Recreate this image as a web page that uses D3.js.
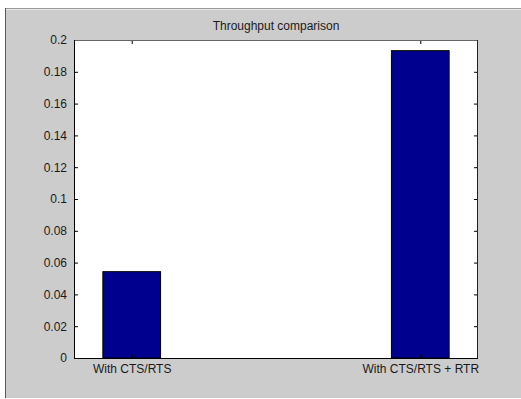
<!DOCTYPE html>
<html>
<head>
<meta charset="utf-8">
<script src="https://cdn.jsdelivr.net/npm/d3@7"></script>
<style>
  html, body { margin: 0; padding: 0; background: #ffffff; }
  svg { display: block; }
  text { font-family: "Liberation Sans", Arial, sans-serif; fill: #1a1a1a; }
</style>
</head>
<body>
<svg id="chart" width="521" height="399"></svg>
<script>
// Throughput per configuration
const categories = ["With CTS/RTS", "With CTS/RTS + RTR"];
const throughput = [0.0543, 0.1933];
const yTicks = [0, 0.02, 0.04, 0.06, 0.08, 0.1, 0.12, 0.14, 0.16, 0.18, 0.2];
const titleText = "Throughput comparison";

const svg = d3.select("#chart");
const W = 521, H = 399;
const FONT = "Liberation Sans, Arial, sans-serif";

// Figure window background
svg.append("rect").attr("x", 0).attr("y", 0).attr("width", W).attr("height", H).attr("fill", "#ffffff");
svg.append("rect").attr("x", 5).attr("y", 8).attr("width", W - 5).attr("height", 390).attr("fill", "#cccccc");
svg.append("line").attr("x1", 5).attr("x2", W).attr("y1", 8.5).attr("y2", 8.5).attr("stroke", "#9a9a9a");
svg.append("line").attr("x1", 6).attr("x2", W).attr("y1", 9.5).attr("y2", 9.5).attr("stroke", "#e8e8e8");
svg.append("line").attr("x1", 5.5).attr("x2", 5.5).attr("y1", 8).attr("y2", 398).attr("stroke", "#555a60");

// Axes box
const plot = { left: 74, top: 40, right: 478, bottom: 358 };
const x = d3.scaleLinear().domain([0.8, 2.2]).range([plot.left, plot.right]);
const y = d3.scaleLinear().domain([0, 0.2]).range([plot.bottom, plot.top]);
const barWidth = 0.2;

svg.append("rect")
  .attr("x", plot.left).attr("y", plot.top)
  .attr("width", plot.right - plot.left).attr("height", plot.bottom - plot.top)
  .attr("fill", "#ffffff");

// Bars
svg.append("g").selectAll("rect")
  .data(throughput)
  .join("rect")
  .attr("x", (d, i) => x(i + 1 - barWidth / 2))
  .attr("y", d => y(d))
  .attr("width", x(1 + barWidth) - x(1))
  .attr("height", d => y(0) - y(d))
  .attr("fill", "#00008f")
  .attr("stroke", "#000000")
  .attr("stroke-width", 1);

// Left axis with inward ticks
const yAxisLeft = d3.axisLeft(y).tickValues(yTicks).tickSize(-4).tickPadding(7)
  .tickFormat(d => d3.format("")(+d.toFixed(2)));
const gl = svg.append("g").attr("transform", `translate(${plot.left},0)`).call(yAxisLeft);
gl.select(".domain").remove();
gl.selectAll(".tick line").attr("stroke", "#000");
gl.selectAll(".tick text").attr("font-size", 12).attr("font-family", FONT).attr("fill", "#1a1a1a");

// Right axis ticks
const yAxisRight = d3.axisRight(y).tickValues(yTicks).tickSize(-4).tickFormat("");
const gr = svg.append("g").attr("transform", `translate(${plot.right},0)`).call(yAxisRight);
gr.select(".domain").remove();
gr.selectAll(".tick line").attr("stroke", "#000");

// Bottom axis labels
const xAxisBottom = d3.axisBottom(x).tickValues([1, 2]).tickSize(-4).tickPadding(6)
  .tickFormat((d) => categories[d - 1]);
const gb = svg.append("g").attr("transform", `translate(0,${plot.bottom})`).call(xAxisBottom);
gb.select(".domain").remove();
gb.selectAll(".tick line").attr("stroke", "#000");
gb.selectAll(".tick text").attr("font-size", 12).attr("font-family", FONT).attr("fill", "#1a1a1a");

// Top axis ticks
const xAxisTop = d3.axisTop(x).tickValues([1, 2]).tickSize(-4).tickFormat("");
const gt = svg.append("g").attr("transform", `translate(0,${plot.top})`).call(xAxisTop);
gt.select(".domain").remove();
gt.selectAll(".tick line").attr("stroke", "#000");

// Box outline
svg.append("line").attr("x1", plot.left).attr("x2", plot.right).attr("y1", plot.top + 0.5).attr("y2", plot.top + 0.5).attr("stroke", "#666");
svg.append("line").attr("x1", plot.right - 0.5).attr("x2", plot.right - 0.5).attr("y1", plot.top).attr("y2", plot.bottom).attr("stroke", "#222");
svg.append("line").attr("x1", plot.left + 0.5).attr("x2", plot.left + 0.5).attr("y1", plot.top).attr("y2", plot.bottom + 1).attr("stroke", "#000");
svg.append("line").attr("x1", plot.left).attr("x2", plot.right).attr("y1", plot.bottom + 0.5).attr("y2", plot.bottom + 0.5).attr("stroke", "#000");

// Title
svg.append("text")
  .attr("x", (plot.left + plot.right) / 2)
  .attr("y", 30)
  .attr("text-anchor", "middle")
  .attr("font-size", 12)
  .text(titleText);
</script>
</body>
</html>
